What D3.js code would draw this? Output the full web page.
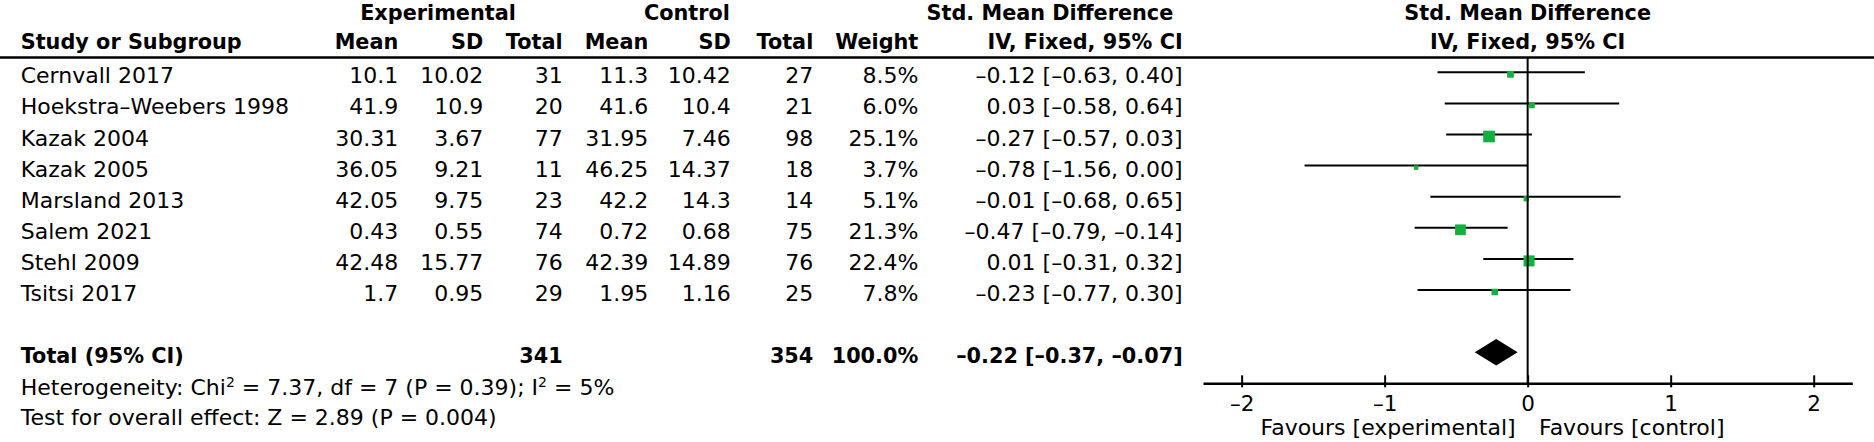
<!DOCTYPE html>
<html>
<head>
<meta charset="utf-8">
<script src="https://cdn.jsdelivr.net/npm/d3@7/dist/d3.min.js"></script>
<style>
  html, body { margin: 0; padding: 0; background: #fff; }
  svg { display: block; }
  text { font-family: "DejaVu Sans", sans-serif; fill: #000; }
</style>
</head>
<body>
<svg id="chart" width="1874" height="442"></svg>
<script>
// ---- Data ----
const studies = ["Cernvall 2017", "Hoekstra–Weebers 1998", "Kazak 2004", "Kazak 2005",
                 "Marsland 2013", "Salem 2021", "Stehl 2009", "Tsitsi 2017"];
const expMean = [10.1, 41.9, 30.31, 36.05, 42.05, 0.43, 42.48, 1.7];
const expSD   = [10.02, 10.9, 3.67, 9.21, 9.75, 0.55, 15.77, 0.95];
const expN    = [31, 20, 77, 11, 23, 74, 76, 29];
const ctlMean = [11.3, 41.6, 31.95, 46.25, 42.2, 0.72, 42.39, 1.95];
const ctlSD   = [10.42, 10.4, 7.46, 14.37, 14.3, 0.68, 14.89, 1.16];
const ctlN    = [27, 21, 98, 18, 14, 75, 76, 25];
const weights = [8.5, 6.0, 25.1, 3.7, 5.1, 21.3, 22.4, 7.8];
const smd     = [-0.12, 0.03, -0.27, -0.78, -0.01, -0.47, 0.01, -0.23];
const ciLow   = [-0.63, -0.58, -0.57, -1.56, -0.68, -0.79, -0.31, -0.77];
const ciHigh  = [0.40, 0.64, 0.03, 0.00, 0.65, -0.14, 0.32, 0.30];
const totalExpN = 341, totalCtlN = 354, totalWeight = 100.0;
const totalSMD = -0.22, totalLow = -0.37, totalHigh = -0.07;
const axisTicks = [-2, -1, 0, 1, 2];
const heterogeneity = ["Heterogeneity: Chi", "2", " = 7.37, df = 7 (P = 0.39); I", "2", " = 5%"];
const overallEffect = "Test for overall effect: Z = 2.89 (P = 0.004)";
const favLeft = "Favours [experimental]", favRight = "Favours [control]";

// ---- Layout ----
const svg = d3.select("#chart");
const FS = 22, FSB = 20.8;
const dash = s => s.replace(/-/g, "–");
const f2 = v => dash(v.toFixed(2));

const x = d3.scaleLinear().domain([-2.27, 2.27]).range([1203, 1852.3]);
const y = d3.scaleLinear().domain([0, 8]).range([72.3, 321.1]);
const sq = d3.scaleSqrt().domain([0, 100]).range([0, 23.3]);
const axisY = 383.3, headLineY = 57.5;

const cols = {mean: 398.3, sd: 483.3, tot: 562.7, cmean: 648.3, csd: 730.7, ctot: 813.3, w: 918.3, ci: 1182.7};
const leftX = 20.7;

function txt(xp, yp, s, opt = {}) {
  return svg.append("text").attr("x", xp).attr("y", yp)
    .attr("font-size", opt.bold ? FSB : FS)
    .attr("font-weight", opt.bold ? "bold" : "normal")
    .attr("text-anchor", opt.anchor || "start")
    .text(s);
}

// Headers
txt(438, 20, "Experimental", {bold: true, anchor: "middle"});
txt(687, 20, "Control", {bold: true, anchor: "middle"});
txt(1173.3, 19.5, "Std. Mean Difference", {bold: true, anchor: "end"});
txt(x(0), 19.5, "Std. Mean Difference", {bold: true, anchor: "middle"});
const hY = 49.3;
txt(leftX, hY, "Study or Subgroup", {bold: true});
txt(cols.mean, hY, "Mean", {bold: true, anchor: "end"});
txt(cols.sd, hY, "SD", {bold: true, anchor: "end"});
txt(cols.tot, hY, "Total", {bold: true, anchor: "end"});
txt(cols.cmean, hY, "Mean", {bold: true, anchor: "end"});
txt(cols.csd, hY, "SD", {bold: true, anchor: "end"});
txt(cols.ctot, hY, "Total", {bold: true, anchor: "end"});
txt(cols.w, hY, "Weight", {bold: true, anchor: "end"});
txt(cols.ci, hY, "IV, Fixed, 95% CI", {bold: true, anchor: "end"});
txt(x(0), hY, "IV, Fixed, 95% CI", {bold: true, anchor: "middle"});

svg.append("line").attr("x1", 0).attr("x2", 1874).attr("y1", headLineY).attr("y2", headLineY)
  .attr("stroke", "#000").attr("stroke-width", 2.5);

// Study rows
const rows = studies.map((s, i) => ({s, i}));
const rowG = svg.selectAll("g.row").data(rows).enter().append("g").attr("class", "row");
const base = d => y(d.i) + 11;
function colText(sel, xp, fn) {
  sel.append("text").attr("x", xp).attr("y", base).attr("font-size", FS)
    .attr("text-anchor", "end").text(fn);
}
rowG.append("text").attr("x", leftX).attr("y", base).attr("font-size", FS).text(d => d.s);
colText(rowG, cols.mean, d => String(expMean[d.i]));
colText(rowG, cols.sd, d => String(expSD[d.i]));
colText(rowG, cols.tot, d => String(expN[d.i]));
colText(rowG, cols.cmean, d => String(ctlMean[d.i]));
colText(rowG, cols.csd, d => String(ctlSD[d.i]));
colText(rowG, cols.ctot, d => String(ctlN[d.i]));
colText(rowG, cols.w, d => weights[d.i].toFixed(1) + "%");
colText(rowG, cols.ci, d => `${f2(smd[d.i])} [${f2(ciLow[d.i])}, ${f2(ciHigh[d.i])}]`);

// Zero line
svg.append("line").attr("x1", x(0)).attr("x2", x(0)).attr("y1", headLineY).attr("y2", axisY)
  .attr("stroke", "#000").attr("stroke-width", 2);

// CI lines and squares
rowG.append("line")
  .attr("x1", d => x(ciLow[d.i])).attr("x2", d => x(ciHigh[d.i]))
  .attr("y1", d => y(d.i)).attr("y2", d => y(d.i))
  .attr("stroke", "#000").attr("stroke-width", 2);
rowG.append("rect")
  .attr("x", d => x(smd[d.i]) - sq(weights[d.i]) / 2)
  .attr("y", d => y(d.i) + 2 - sq(weights[d.i]) / 2)
  .attr("width", d => sq(weights[d.i]))
  .attr("height", d => sq(weights[d.i]))
  .attr("fill", "#13b040");

// Total row
const ty = y(9);
txt(leftX, ty + 11, "Total (95% CI)", {bold: true});
txt(cols.tot, ty + 11, String(totalExpN), {bold: true, anchor: "end"});
txt(cols.ctot, ty + 11, String(totalCtlN), {bold: true, anchor: "end"});
txt(cols.w, ty + 11, totalWeight.toFixed(1) + "%", {bold: true, anchor: "end"});
txt(cols.ci, ty + 11, `${f2(totalSMD)} [${f2(totalLow)}, ${f2(totalHigh)}]`, {bold: true, anchor: "end"});
const dh = 13.3;
svg.append("path")
  .attr("d", `M${x(totalLow)},${ty} L${x(totalSMD)},${ty - dh} L${x(totalHigh)},${ty} L${x(totalSMD)},${ty + dh} Z`)
  .attr("fill", "#000");

// Heterogeneity text
const het = svg.append("text").attr("x", leftX).attr("y", 395).attr("font-size", FS);
heterogeneity.forEach((p, k) => {
  const t = het.append("tspan").text(p);
  if (k % 2 === 1) t.attr("font-size", 14).attr("dy", -8);
  else if (k > 0) t.attr("dy", 8);
});
txt(leftX, 425, overallEffect);

// Axis
const axis = d3.axisBottom(x).tickValues(axisTicks).tickSize(0).tickPadding(12)
  .tickFormat(d => dash(String(d)));
const ag = svg.append("g").attr("transform", `translate(0,${axisY})`).call(axis);
ag.select(".domain").attr("stroke", "#000").attr("stroke-width", 2.5);
ag.selectAll(".tick line").remove();
ag.selectAll(".tick").append("line").attr("y1", -8).attr("y2", 4)
  .attr("stroke", "#000").attr("stroke-width", 2);
ag.selectAll(".tick text").attr("font-size", 21.5).attr("font-family", "DejaVu Sans").attr("fill", "#000");

txt(1515.7, 435, favLeft, {anchor: "end"});
txt(1539, 435, favRight);
</script>
</body>
</html>
